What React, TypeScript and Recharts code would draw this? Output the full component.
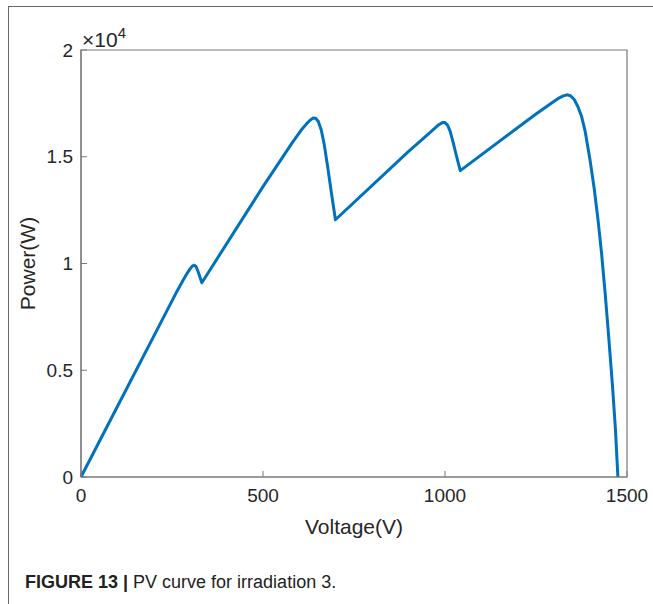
import React from "react";
import { LineChart, Line, XAxis, YAxis, Label, ReferenceArea } from "recharts";

const voltage = [
  0, 100, 200, 260, 280, 292, 300, 306, 311, 316, 321, 326, 332,
  500, 580, 605, 620, 630, 638, 645, 652, 660, 668, 677, 688, 699,
  900, 950, 970, 983, 993, 1000, 1007, 1014, 1022, 1032, 1042,
  1250, 1290, 1310, 1325, 1335, 1345, 1355, 1365, 1375, 1385, 1398, 1410, 1420, 1430, 1440, 1450, 1460, 1468, 1475,
];
const power = [
  0, 3300, 6600, 8580, 9200, 9550, 9760, 9880, 9920, 9860, 9650, 9400, 9100,
  13600, 15650, 16250, 16550, 16720, 16810, 16800, 16650, 16250, 15600, 14600, 13300, 12050,
  15250, 16000, 16300, 16500, 16600, 16600, 16480, 16200, 15700, 15000, 14350,
  17000, 17480, 17720, 17850, 17900, 17860, 17680, 17350, 16900, 16200, 14900, 13500, 12100, 10500, 8600, 6500, 4300, 2300, 0,
];
const xTicks = [0, 500, 1000, 1500];
const yTicks = [0, 5000, 10000, 15000, 20000];
const xLabel = "Voltage(V)";
const yLabel = "Power(W)";
const caption = "PV curve for irradiation 3.";
const figTag = "FIGURE 13 |";

const data = voltage.map((v, i) => ({ v, p: power[i] }));

const FONT = "'Liberation Sans', Arial, Helvetica, sans-serif";
const AXIS = "#7a7a7a";
const TXT = "#262626";

export default function App() {
  return (
    <div style={{ position: "absolute", left: 0, top: 0, width: 653, height: 604, background: "#fff", fontFamily: FONT, overflow: "hidden" }}>
      <div style={{ position: "absolute", left: 8, top: 6, width: 660, height: 620, borderTop: "1.5px solid #666", borderLeft: "1.5px solid #666" }} />
      <div style={{ position: "absolute", left: 0, top: 0 }}>
        <LineChart width={653} height={560} data={data} margin={{ top: 50, right: 26, bottom: 0, left: 0 }} style={{ fontFamily: FONT }}>
          <XAxis
            dataKey="v"
            type="number"
            domain={[0, 1500]}
            ticks={xTicks}
            height={83}
            stroke={AXIS}
            axisLine={{ stroke: AXIS, strokeWidth: 1.2 }}
            tickLine={{ stroke: AXIS }}
            tickSize={-6}
            tickMargin={18}
            tick={{ fill: TXT, fontSize: 19 }}
            interval={0}
          >
            <Label value={xLabel} position="insideBottom" offset={26} fill={TXT} fontSize={21} />
          </XAxis>
          <XAxis
            xAxisId="top"
            orientation="top"
            dataKey="v"
            type="number"
            domain={[0, 1500]}
            ticks={xTicks}
            height={0}
            stroke={AXIS}
            axisLine={{ stroke: AXIS }}
            tickLine={{ stroke: AXIS }}
            tickSize={-6}
            tick={() => <g />}
            interval={0}
          />
          <YAxis
            type="number"
            domain={[0, 20000]}
            ticks={yTicks}
            width={81}
            stroke={AXIS}
            axisLine={{ stroke: AXIS, strokeWidth: 1.2 }}
            tickLine={{ stroke: AXIS }}
            tickSize={-6}
            tickMargin={14}
            tick={{ fill: TXT, fontSize: 19 }}
            tickFormatter={(t: number) => String(t / 10000)}
            interval={0}
          >
            <Label
              content={(props: any) => {
                const vb = props.viewBox || { x: 0, y: 50, height: 427 };
                const cx = vb.x + 35;
                const cy = vb.y + vb.height / 2;
                return (
                  <text x={cx} y={cy} transform={`rotate(-90 ${cx} ${cy})`} textAnchor="middle" fill={TXT} fontSize={21} fontFamily={FONT}>
                    {yLabel}
                  </text>
                );
              }}
            />
          </YAxis>
          <YAxis
            yAxisId="right"
            orientation="right"
            type="number"
            domain={[0, 20000]}
            ticks={yTicks}
            width={0}
            stroke={AXIS}
            axisLine={{ stroke: AXIS }}
            tickLine={{ stroke: AXIS }}
            tickSize={-6}
            tick={() => <g />}
            interval={0}
          />
          <ReferenceArea x1={0} x2={1500} y1={0} y2={20000} fill="none" fillOpacity={0} stroke={AXIS} strokeWidth={1.2} ifOverflow="visible" />
          <Line dataKey="p" type="linear" stroke="#0072BD" strokeWidth={3} dot={false} isAnimationActive={false} strokeLinejoin="round" />
        </LineChart>
      </div>
      <svg width={653} height={604} style={{ position: "absolute", left: 0, top: 0, pointerEvents: "none" }}>
        <text x={82} y={47} fontSize={21} fill={TXT} fontFamily={FONT}>
          ×10<tspan dy={-9} fontSize={15}>4</tspan>
        </text>
        <text x={25} y={588} fontSize={18} fill="#222" fontFamily={FONT}>
          <tspan fontWeight="bold">{figTag}</tspan> {caption}
        </text>
      </svg>
    </div>
  );
}
